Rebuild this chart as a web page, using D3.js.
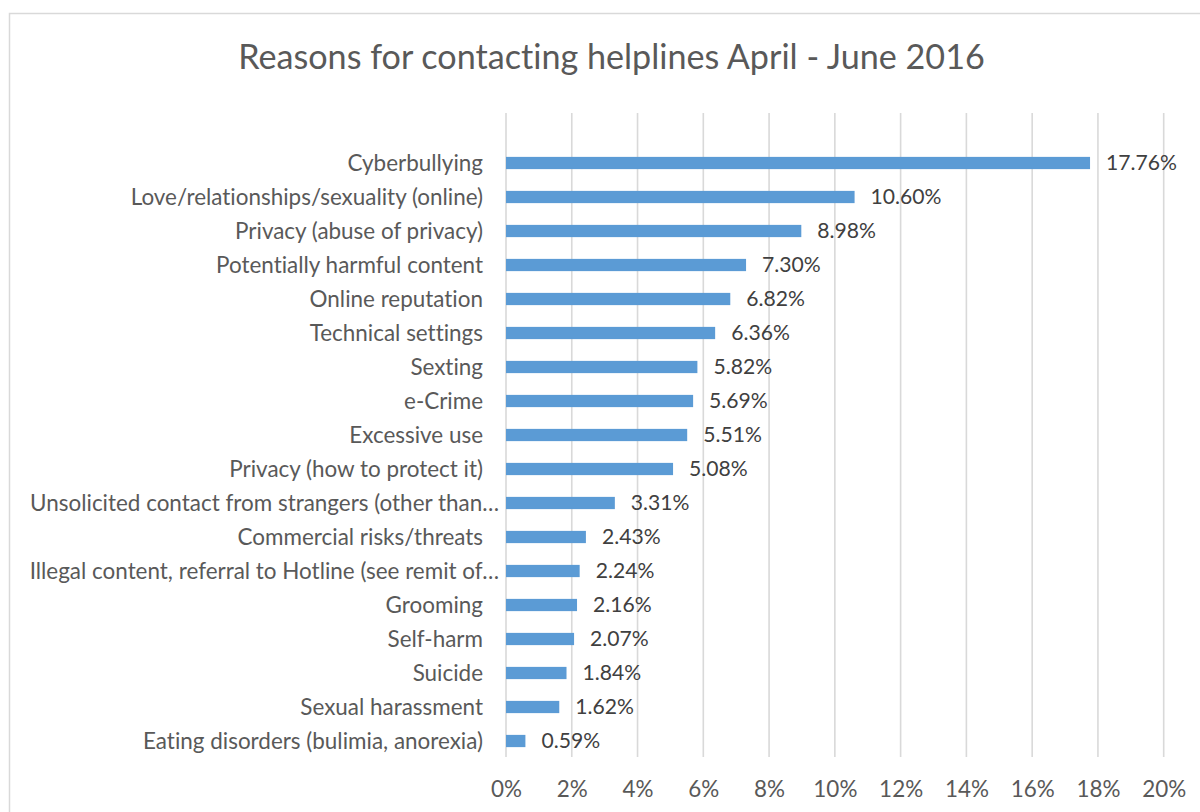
<!DOCTYPE html>
<html><head><meta charset="utf-8">
<script src="https://cdn.jsdelivr.net/npm/d3@7"></script>
<style>body{margin:0;background:#fff}svg{display:block}text{font-variant-ligatures:none;font-feature-settings:"liga" 0,"clig" 0}</style>
</head><body>
<svg id="c" width="1200" height="812"></svg>
<script>
const title = "Reasons for contacting helplines April - June 2016";
const categories = [
  "Cyberbullying",
  "Love/relationships/sexuality (online)",
  "Privacy (abuse of privacy)",
  "Potentially harmful content",
  "Online reputation",
  "Technical settings",
  "Sexting",
  "e-Crime",
  "Excessive use",
  "Privacy (how to protect it)",
  "Unsolicited contact from strangers (other than…",
  "Commercial risks/threats",
  "Illegal content, referral to Hotline (see remit of…",
  "Grooming",
  "Self-harm",
  "Suicide",
  "Sexual harassment",
  "Eating disorders (bulimia, anorexia)"
];
const values = [17.76, 10.60, 8.98, 7.30, 6.82, 6.36, 5.82, 5.69, 5.51, 5.08, 3.31, 2.43, 2.24, 2.16, 2.07, 1.84, 1.62, 0.59];
const tickValues = [0, 2, 4, 6, 8, 10, 12, 14, 16, 18, 20];

const svg = d3.select("#c");
const FONT = "Lato, 'Open Sans', sans-serif";
const TXT = "#595959";

// frame
svg.append("rect").attr("x", 9.5).attr("y", 13.5).attr("width", 1220).attr("height", 820)
  .attr("fill", "#fff").attr("stroke", "#d9d9d9").attr("stroke-width", 1.5);

const x = d3.scaleLinear().domain([0, 20]).range([506, 1163.7]);
const y = d3.scaleBand().domain(categories).range([146, 758]).paddingInner(0.64).paddingOuter(0.32);

function fit(sel, target) {
  const w = sel.node().getComputedTextLength();
  const fs = parseFloat(sel.attr("font-size"));
  return fs * target / w;
}

// title
const t = svg.append("text").attr("x", 611.5).attr("y", 69).attr("text-anchor", "middle")
  .attr("font-family", FONT).attr("font-size", 30).attr("fill", TXT).text(title);
t.attr("font-size", fit(t, 747));

// gridlines
svg.append("g").selectAll("line").data(tickValues).join("line")
  .attr("x1", d => x(d)).attr("x2", d => x(d)).attr("y1", 113).attr("y2", 757)
  .attr("stroke", "#d9d9d9").attr("stroke-width", 1.6);

// axis
const axis = d3.axisBottom(x).tickValues(tickValues).tickFormat(d => d + "%").tickSize(0).tickPadding(0);
const ag = svg.append("g").attr("transform", "translate(0,780)").call(axis);
ag.select(".domain").remove();
ag.selectAll("text").attr("font-family", FONT).attr("fill", TXT).attr("dy", "0.75em");

// category labels
const lg = svg.append("g");
const labels = lg.selectAll("text").data(categories).join("text")
  .attr("x", d => d.endsWith("…") ? 499 : 483)
  .attr("y", d => y(d) + y.bandwidth() / 2).attr("dy", "0.35em")
  .attr("text-anchor", "end").attr("font-family", FONT).attr("font-size", 20).attr("fill", TXT)
  .text(d => d);
const longest = labels.filter(d => d.startsWith("Unsolicited"));
const lfs = fit(longest, 469);
labels.attr("font-size", lfs);
ag.selectAll("text").attr("font-size", lfs);

// bars
svg.append("g").selectAll("rect").data(values).join("rect")
  .attr("x", x(0)).attr("y", (d, i) => y(categories[i]))
  .attr("width", d => x(d) - x(0)).attr("height", y.bandwidth())
  .attr("fill", "#5b9bd5");

// value labels
const vl = svg.append("g").selectAll("text").data(values).join("text")
  .attr("x", d => x(d) + 16).attr("y", (d, i) => y(categories[i]) + y.bandwidth() / 2).attr("dy", "0.35em")
  .attr("font-family", FONT).attr("font-size", lfs).attr("fill", "#404040")
  .text(d => d.toFixed(2) + "%");
const first = vl.filter((d, i) => i === 0);
vl.attr("font-size", fit(first, 71));
</script>
</body></html>
